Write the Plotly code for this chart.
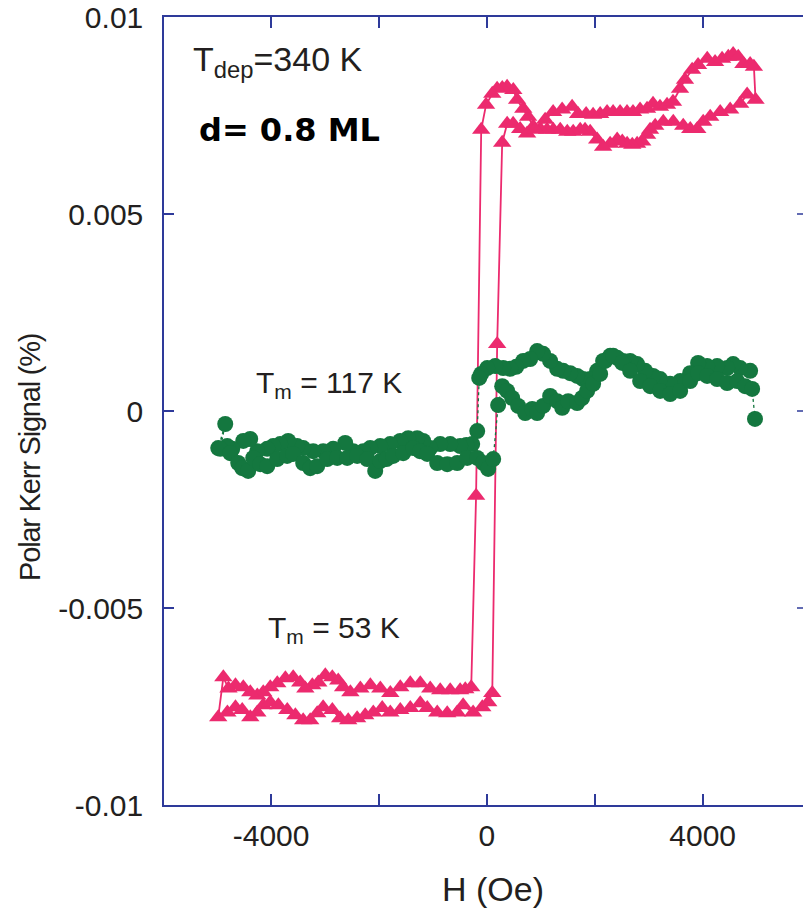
import plotly.graph_objects as go

# ---------------- data ----------------
# T_m = 53 K loop (pink triangles): descending branch from +5000 Oe
pink_down_H = [4950, 4980, 4824, 4695, 4510, 4325, 4140, 4010, 3900, 3770,
               3640, 3455, 3270, 3120, 3025, 2970, 2880, 2785, 2695, 2600,
               2510, 2415, 2285, 2155, 2045, 1915, 1820, 1730, 1600, 1490,
               1360, 1230, 1115, 990, 860, 765, 675, 560, 490, 375,
               285, 190, 100, -15, -105, -200, -290, -400, -495, -680,
               -865, -1050, -1235, -1420, -1605, -1790, -1975, -2160, -2345, -2530,
               -2665, -2755, -2865, -2995, -3125, -3235, -3365, -3460, -3590, -3735,
               -3885, -4015, -4145, -4255, -4385, -4515, -4660, -4790, -4885]
pink_down_V = [0.00874, 0.0079, 0.00803, 0.0078, 0.00765, 0.00759, 0.00747, 0.00734, 0.00716, 0.00716,
               0.00724, 0.00734, 0.00734, 0.00724, 0.00714, 0.00701, 0.00684, 0.00678, 0.00676, 0.00678,
               0.00684, 0.00689, 0.00678, 0.00671, 0.00689, 0.00709, 0.00714, 0.00714, 0.00709, 0.00709,
               0.00714, 0.00714, 0.00714, 0.00716, 0.00722, 0.00747, 0.00767, 0.0079, 0.00815, 0.00823,
               0.0082, 0.00818, 0.00805, 0.00777, 0.00714, -0.00215, -0.00701, -0.00706, -0.00709, -0.00709,
               -0.00709, -0.00704, -0.00691, -0.00691, -0.00701, -0.00716, -0.00704, -0.00696, -0.00704, -0.00714,
               -0.00701, -0.00684, -0.00676, -0.00671, -0.00689, -0.00696, -0.00704, -0.00689, -0.00676, -0.00678,
               -0.00691, -0.00701, -0.00714, -0.00722, -0.00714, -0.00701, -0.00696, -0.00704, -0.00676]

# ascending branch from -5000 Oe
pink_up_H = [-4980, -4810, -4660, -4535, -4385, -4255, -4145, -4015, -3865, -3700,
             -3550, -3405, -3275, -3145, -3035, -2865, -2720, -2570, -2405, -2255,
             -2105, -1940, -1790, -1605, -1420, -1235, -1105, -920, -735, -550,
             -440, -255, -85, 25, 100, 191, 284, 376, 487, 617,
             746, 894, 1080, 1228, 1395, 1580, 1691, 1840, 1969, 2100,
             2228, 2340, 2469, 2598, 2709, 2840, 2969, 3080, 3209, 3340,
             3450, 3580, 3672, 3805, 3915, 4085, 4230, 4360, 4475, 4565,
             4660, 4755, 4880]
pink_up_V = [-0.00777, -0.00765, -0.00752, -0.00759, -0.00777, -0.00765, -0.00747, -0.00739, -0.00747, -0.00759,
             -0.00772, -0.00785, -0.00785, -0.00767, -0.00752, -0.00759, -0.0078, -0.00785, -0.0078, -0.00772,
             -0.00765, -0.00754, -0.00765, -0.00759, -0.00754, -0.00742, -0.00754, -0.00765, -0.00767, -0.00765,
             -0.00747, -0.00765, -0.00752, -0.00739, -0.00716, 0.0017, 0.00681, 0.00729, 0.00729, 0.00716,
             0.00704, 0.00714, 0.00739, 0.00759, 0.00765, 0.00772, 0.00754, 0.00754, 0.00752, 0.00754,
             0.00759, 0.00759, 0.00759, 0.00759, 0.00759, 0.00765, 0.00767, 0.0078, 0.00772, 0.00777,
             0.00785, 0.00818, 0.00841, 0.00866, 0.00878, 0.00894, 0.00886, 0.00894, 0.00899, 0.00906,
             0.00899, 0.00881, 0.00881]

# T_m = 117 K loop (green circles): descending branch from +5000 Oe
green_down_H = [4880, 4695, 4565, 4454, 4268, 4083, 3916, 3768, 3583, 3397,
                3212, 3082, 2934, 2786, 2656, 2526, 2415, 2285, 2155, 2044,
                1914, 1785, 1673, 1544, 1414, 1303, 1173, 1043, 932, 802,
                673, 543, 432, 302, 154, 6, -106, -142, -179, -272,
                -380, -495, -680, -865, -1051, -1180, -1292, -1458, -1607, -1792,
                -1977, -2163, -2292, -2478, -2626, -2849, -3034, -3220, -3405, -3516,
                -3683, -3831, -3961, -4072, -4257, -4387, -4516, -4720, -4813, -4980,
                -4850]
green_down_V = [0.00102, 0.00109, 0.00119, 0.00109, 0.00114, 0.00114, 0.00122, 0.00096, 0.00076, 0.00069,
                0.00081, 0.00089, 0.00102, 0.00119, 0.00127, 0.00127, 0.00135, 0.0014, 0.00127, 0.00102,
                0.00081, 0.00081, 0.00089, 0.00096, 0.00102, 0.00107, 0.00127, 0.00145, 0.00152, 0.00132,
                0.00127, 0.00112, 0.00107, 0.00109, 0.00114, 0.00109, 0.00094, 0.00084, -0.00051, -0.00084,
                -0.00086, -0.00089, -0.00084, -0.00084, -0.00094, -0.00076, -0.00069, -0.00069, -0.00076, -0.00084,
                -0.00089, -0.00094, -0.00102, -0.00102, -0.00081, -0.00096, -0.00102, -0.00102, -0.00094, -0.00089,
                -0.00076, -0.00084, -0.00089, -0.00096, -0.00102, -0.00071, -0.00076, -0.00096, -0.00089, -0.00094,
                -0.00033]

# ascending branch from -5000 Oe
green_up_H = [-4942, -4757, -4609, -4535, -4424, -4331, -4202, -4072, -3887, -3702,
              -3590, -3405, -3275, -3146, -2960, -2775, -2589, -2404, -2218, -2070,
              -1977, -1860, -1736, -1551, -1366, -1240, -1106, -921, -735, -550,
              -365, -179, -68, 24, 117, 209, 284, 376, 469, 580,
              710, 840, 932, 1043, 1173, 1303, 1396, 1507, 1673, 1766,
              1859, 1970, 2100, 2192, 2341, 2508, 2656, 2841, 3027, 3212,
              3397, 3583, 3768, 3916, 4083, 4268, 4454, 4639, 4787, 4917,
              4970]
green_up_V = [-0.00096, -0.00107, -0.00132, -0.00145, -0.00152, -0.00119, -0.00135, -0.0014, -0.00122, -0.00114,
              -0.00109, -0.00132, -0.00145, -0.0014, -0.00122, -0.00119, -0.00119, -0.00114, -0.00122, -0.00152,
              -0.00127, -0.00122, -0.00114, -0.00107, -0.00094, -0.00102, -0.00109, -0.00132, -0.00135, -0.00132,
              -0.00119, -0.00119, -0.00132, -0.00147, -0.00122, 0.00015, 0.00063, 0.00051, 0.00033, 0.00013,
              -0.00005, 0.00005, -0.00005, 0.00013, 0.00038, 0.00025, 0.00008, 0.00025, 0.0002, 0.00033,
              0.00051, 0.00069, 0.00094, 0.00127, 0.0014, 0.00122, 0.00102, 0.00076, 0.00063, 0.00051,
              0.00043, 0.00051, 0.00076, 0.00096, 0.00089, 0.00081, 0.00071, 0.00076, 0.00063, 0.00056,
              -0.0002]

x_tickvals = [-4000, -2000, 0, 2000, 4000]
x_ticktext = ["-4000", "", "0", "", "4000"]
y_tickvals = [-0.01, -0.005, 0, 0.005, 0.01]
y_ticktext = ["-0.01", "-0.005", "0", "0.005", "0.01"]

assert len(pink_down_H) == len(pink_down_V)
assert len(pink_up_H) == len(pink_up_V)
assert len(green_down_H) == len(green_down_V)
assert len(green_up_H) == len(green_up_V)

# ---------------- styling ----------------
PINK = "#EC2A6E"
GREEN = "#14773F"
AXIS = "#2E3A9A"
FONT = "Liberation Sans, Arial, sans-serif"

fig = go.Figure()
fig.add_trace(go.Scatter(
    x=pink_down_H + pink_up_H, y=pink_down_V + pink_up_V,
    mode="lines+markers",
    line=dict(color=PINK, width=1.8),
    marker=dict(symbol="triangle-up", size=16, color=PINK, line=dict(width=0)),
    showlegend=False, hoverinfo="skip"))
fig.add_trace(go.Scatter(
    x=green_down_H + green_up_H, y=green_down_V + green_up_V,
    mode="lines+markers",
    line=dict(color=GREEN, width=1.3, dash="dot"),
    marker=dict(symbol="circle", size=16, color=GREEN, line=dict(width=0)),
    showlegend=False, hoverinfo="skip"))

W, H = 803, 916
L, R, T, B = 164, 0, 15, 111

fig.update_layout(
    width=W, height=H,
    margin=dict(l=L, r=R, t=T, b=B, pad=0),
    paper_bgcolor="white", plot_bgcolor="white",
    font=dict(family=FONT, size=30, color="#231F20"),
    xaxis=dict(range=[-5985, 5860], tickvals=x_tickvals, ticktext=x_ticktext,
               ticks="inside", ticklen=11, tickwidth=1.5, tickcolor=AXIS,
               showline=True, linecolor=AXIS, linewidth=1.5, mirror="ticks",
               showgrid=False, zeroline=False, ticklabelstandoff=3,
               ticklabeloverflow="allow",
               tickfont=dict(size=30, family=FONT)),
    yaxis=dict(range=[-0.01, 0.01], tickvals=y_tickvals, ticktext=y_ticktext,
               ticks="inside", ticklen=10, tickwidth=1.5, tickcolor=AXIS,
               showline=True, linecolor=AXIS, linewidth=1.5,
               showgrid=False, zeroline=False, ticklabelstandoff=13,
               ticklabeloverflow="allow",
               tickfont=dict(size=30, family=FONT)),
)

# right-hand axis ticks (axis itself lies just beyond the image edge)
for v in y_tickvals[1:-1]:
    fig.add_shape(type="line", xref="paper", yref="y", x0=0.9906, x1=1.0, y0=v, y1=v,
                  line=dict(color=AXIS, width=1.5))

# axis titles
fig.add_annotation(text="H (Oe)", xref="paper", yref="paper",
                   x=(493 - L) / (W - L), y=-(889 - (H - B)) / (H - T - B),
                   xanchor="center", yanchor="middle", showarrow=False,
                   font=dict(size=34, family=FONT, color="#231F20"))
fig.add_annotation(text="<span style='letter-spacing:-1.2px'>Polar Kerr Signal (%)</span>",
                   xref="paper", yref="paper",
                   x=-(L - 30) / (W - L), y=(H - B - 457) / (H - T - B),
                   xanchor="center", yanchor="middle", textangle=-90, showarrow=False,
                   font=dict(size=29, family=FONT, color="#231F20"))

# in-plot labels
fig.add_annotation(text="T<sub>dep</sub>=340 K", x=-5480, y=0.00888, xref="x", yref="y",
                   xanchor="left", yanchor="middle", showarrow=False,
                   font=dict(size=34, family=FONT, color="#231F20"))
fig.add_annotation(text="<b>d= 0.8 ML</b>", x=-5380, y=0.00712, xref="x", yref="y",
                   xanchor="left", yanchor="middle", showarrow=False,
                   font=dict(size=32, family="DejaVu Sans, sans-serif", color="#000000"))
fig.add_annotation(text="T<sub>m</sub> = 117 K", x=-4320, y=0.00068, xref="x", yref="y",
                   xanchor="left", yanchor="middle", showarrow=False,
                   font=dict(size=30, family=FONT, color="#231F20"))
fig.add_annotation(text="T<sub>m</sub> = 53 K", x=-4100, y=-0.00555, xref="x", yref="y",
                   xanchor="left", yanchor="middle", showarrow=False,
                   font=dict(size=30, family=FONT, color="#231F20"))

fig.write_html("out.html", config={"displayModeBar": False},
               post_script="document.body.style.margin='0';document.body.style.padding='0';")
